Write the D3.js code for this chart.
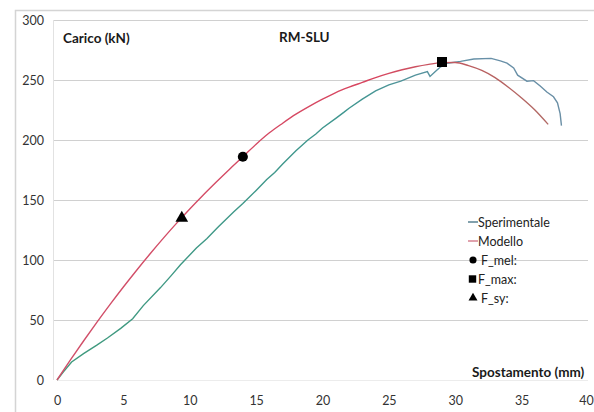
<!DOCTYPE html>
<html>
<head>
<meta charset="utf-8">
<script src="https://cdn.jsdelivr.net/npm/d3@7"></script>
<style>
  body { margin: 0; background: #fff; }
  svg { display: block; font-family: Lato, "Open Sans", sans-serif; }
</style>
</head>
<body>
<div id="chart"></div>
<script>
// Sperimentale: [spostamento mm, carico kN]
const sperimentale = [
  [0, 0], [0.5, 7], [1.1, 15], [2, 22], [3, 29], [3.8, 35], [4.8, 43], [5.7, 51],
  [6.5, 62], [7.8, 77], [8.6, 87], [9.3, 96], [10.5, 110], [11.3, 118], [12.1, 127],
  [13.3, 140], [14, 147], [15, 158], [15.8, 167], [16.4, 173], [17, 180], [18, 191],
  [18.9, 200], [19.5, 205], [20, 210], [21, 218], [21.6, 223], [22, 226.5], [23, 234],
  [24, 241], [25, 246], [25.9, 249], [27, 254], [27.9, 257], [28.1, 253], [28.5, 257],
  [28.9, 261], [29.4, 264], [30.4, 265.5], [31.4, 267.5], [32.7, 268], [33.4, 266],
  [33.9, 264], [34.4, 260], [34.7, 254], [35.4, 249], [35.9, 249.5], [36.4, 245],
  [36.9, 240], [37.4, 236], [37.7, 231], [37.9, 222], [38.0, 212]
];
// Modello
const modello = [
  [0, 0], [1, 16.5], [2, 32.5], [3, 48], [4, 63], [5, 77.5], [6, 91.5], [7, 105],
  [8, 118], [9, 130.5], [9.4, 135.3], [10, 142.5], [11, 154], [12, 165], [13, 175.7],
  [14, 186], [15, 196.5], [16, 206], [17, 214], [18, 221.5], [19, 228], [20, 234],
  [21, 239.5], [22, 244], [23, 248], [24, 252], [25, 255.5], [26, 258.5], [27, 261],
  [28, 263], [29, 264.5], [30, 264.6], [31, 262], [32, 258], [33, 252], [34, 244],
  [35, 235], [36, 225], [37, 213]
];
const fMel = [14.0, 186];
const fMax = [29.0, 265];
const fSy = [9.4, 135];

const xTicks = [0, 5, 10, 15, 20, 25, 30, 35, 40];
const yTicks = [0, 50, 100, 150, 200, 250, 300];
const legendLabels = ['Sperimentale', 'Modello', 'F_mel:', 'F_max:', 'F_sy:'];

const W = 594, H = 412;
const svg = d3.select('#chart').append('svg')
  .attr('width', W).attr('height', H);

// outer frame
svg.append('path')
  .attr('d', `M15.5,${H} V10.5 H${W}`)
  .attr('fill', 'none').attr('stroke', '#d4d4d4').attr('stroke-width', 1.5);

const x = d3.scaleLinear().domain([0, 40]).range([57, 588]);
const y = d3.scaleLinear().domain([0, 300]).range([380, 20]);

const defs = svg.append('defs');
const gGreen = defs.append('linearGradient').attr('id', 'gSper')
  .attr('gradientUnits', 'userSpaceOnUse')
  .attr('x1', x(0)).attr('x2', x(40)).attr('y1', 0).attr('y2', 0);
gGreen.append('stop').attr('offset', 0).attr('stop-color', '#3f9a7c');
gGreen.append('stop').attr('offset', 0.55).attr('stop-color', '#3f9690');
gGreen.append('stop').attr('offset', 0.8).attr('stop-color', '#6890a8');
gGreen.append('stop').attr('offset', 1).attr('stop-color', '#6a8ea4');
const gRed = defs.append('linearGradient').attr('id', 'gMod')
  .attr('gradientUnits', 'userSpaceOnUse')
  .attr('x1', x(0)).attr('x2', x(40)).attr('y1', 0).attr('y2', 0);
gRed.append('stop').attr('offset', 0).attr('stop-color', '#d0506a');
gRed.append('stop').attr('offset', 0.6).attr('stop-color', '#d84660');
gRed.append('stop').attr('offset', 0.8).attr('stop-color', '#b86060');
gRed.append('stop').attr('offset', 1).attr('stop-color', '#ad7068');

// gridlines
svg.append('g')
  .selectAll('line').data(yTicks.filter(d => d > 0)).join('line')
  .attr('x1', x(0) - 4).attr('x2', x(40))
  .attr('y1', d => Math.round(y(d)) + 0.5).attr('y2', d => Math.round(y(d)) + 0.5)
  .attr('stroke', '#d0d0d0');

// axes lines
svg.append('line')
  .attr('x1', x(0) - 3.5).attr('x2', x(0) - 3.5).attr('y1', y(300)).attr('y2', y(0))
  .attr('stroke', '#e2e2e2');
svg.append('line')
  .attr('x1', x(0)).attr('x2', x(40)).attr('y1', y(0) + 0.5).attr('y2', y(0) + 0.5)
  .attr('stroke', '#ececec');

// tick labels
const yAxis = svg.append('g').attr('transform', 'translate(44,0)')
  .call(d3.axisLeft(y).tickValues(yTicks).tickSize(0).tickPadding(0));
yAxis.select('.domain').remove();
yAxis.selectAll('text').attr('font-size', 12.5).attr('fill', '#333')
  .attr('font-family', 'Lato, "Open Sans", sans-serif');

const xAxis = svg.append('g').attr('transform', 'translate(0,396)')
  .call(d3.axisBottom(x).tickValues(xTicks).tickSize(0).tickPadding(0));
xAxis.select('.domain').remove();
xAxis.selectAll('text').attr('font-size', 12.5).attr('fill', '#333')
  .attr('font-family', 'Lato, "Open Sans", sans-serif');
// keep the last label inside the window
xAxis.selectAll('.tick').filter(d => d === 40).select('text').attr('dx', -2);

// curves
const line = d3.line().x(d => x(d[0])).y(d => y(d[1]));
svg.append('path').datum(sperimentale)
  .attr('d', line).attr('fill', 'none')
  .attr('stroke', 'url(#gSper)').attr('stroke-width', 1.4);
svg.append('path').datum(modello)
  .attr('d', d3.line().x(d => x(d[0])).y(d => y(d[1])).curve(d3.curveMonotoneX))
  .attr('fill', 'none')
  .attr('stroke', 'url(#gMod)').attr('stroke-width', 1.4);

// markers
const sym = (type, size) => d3.symbol().type(type).size(size)();
svg.append('path').attr('d', sym(d3.symbolCircle, 80))
  .attr('transform', `translate(${x(fMel[0])},${y(fMel[1])})`).attr('fill', '#000');
svg.append('path').attr('d', sym(d3.symbolSquare, 100))
  .attr('transform', `translate(${x(fMax[0])},${y(fMax[1])})`).attr('fill', '#000');
svg.append('path').attr('d', sym(d3.symbolTriangle, 70))
  .attr('transform', `translate(${x(fSy[0])},${y(fSy[1])})`).attr('fill', '#000');

// titles
const label = (tx, ty, t) => svg.append('text')
  .attr('x', tx).attr('y', ty).attr('font-size', 13.5).attr('font-weight', 700)
  .attr('fill', '#1a1a1a').text(t);
label(63, 43, 'Carico (kN)');
label(279, 42, 'RM-SLU');
label(472, 377, 'Spostamento (mm)');

// legend
const lg = svg.append('g').attr('transform', 'translate(468,222)');
const rowH = 19;
const items = lg.selectAll('g').data(legendLabels).join('g')
  .attr('transform', (d, i) => `translate(0,${i * rowH})`);
items.append('text').attr('x', (d, i) => i < 2 ? 10 : (i === 3 ? 10 : 13)).attr('y', 4.5)
  .attr('font-size', 12.5).attr('fill', '#222').text(d => d);
items.filter((d, i) => i === 0).append('line')
  .attr('x1', 0).attr('x2', 10).attr('y1', 0).attr('y2', 0).attr('stroke', '#3f6f80').attr('stroke-width', 1.3);
items.filter((d, i) => i === 1).append('line')
  .attr('x1', 0).attr('x2', 10).attr('y1', 0).attr('y2', 0).attr('stroke', '#d07080').attr('stroke-width', 1.3);
items.filter((d, i) => i === 2).append('path')
  .attr('d', sym(d3.symbolCircle, 40)).attr('transform', 'translate(5,0)').attr('fill', '#000');
items.filter((d, i) => i === 3).append('path')
  .attr('d', sym(d3.symbolSquare, 55)).attr('transform', 'translate(4.5,0)').attr('fill', '#000');
items.filter((d, i) => i === 4).append('path')
  .attr('d', sym(d3.symbolTriangle, 35)).attr('transform', 'translate(5,0)').attr('fill', '#000');
</script>
</body>
</html>
